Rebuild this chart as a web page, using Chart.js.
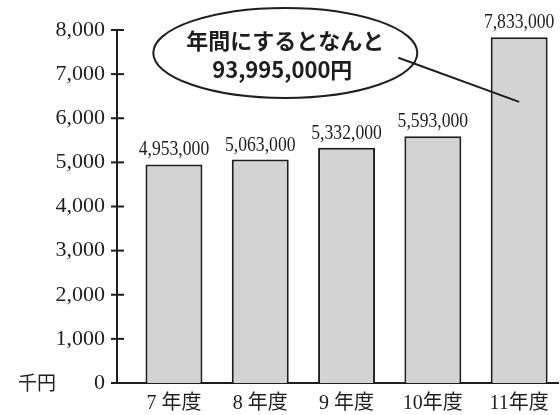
<!DOCTYPE html>
<html>
<head>
<meta charset="utf-8">
<script src="https://cdn.jsdelivr.net/npm/chart.js@4"></script>
<style>
  body { margin: 0; background: #fff; }
  #wrap { width: 560px; height: 415px; }
</style>
</head>
<body>
<div id="wrap"><canvas id="budgetChart"></canvas></div>
<script>
// Data (千円)
const years = [7, 8, 9, 10, 11];
const yearLabels = ['7 年度', '8 年度', '9 年度', '10年度', '11年度'];
const amounts = [4953, 5063, 5332, 5593, 7833];
const yTicks = [0, 1000, 2000, 3000, 4000, 5000, 6000, 7000, 8000];
const unitLabel = '千円';
const noteLines = ['年間にするとなんと', '93,995,000円'];

// Callout placement, in chart values
const note = {
    x: 8.29, y: 7480, rx: 132, ry: 45,
    from: { x: 9.6, y: 7370 },
    to: { x: 11, y: 6370 }
};

const ink = '#1e1e1e';
const serif = '"Liberation Serif", "Noto Sans CJK JP", serif';

const extras = {
    id: 'extras',
    afterDatasetsDraw(chart) {
        const ctx = chart.ctx;
        const xs = chart.scales.x;
        const ys = chart.scales.y;

        // value labels above bars (yen)
        const bars = chart.getDatasetMeta(0).data;
        ctx.save();
        ctx.fillStyle = ink;
        ctx.font = '21px ' + serif;
        ctx.textAlign = 'center';
        ctx.textBaseline = 'alphabetic';
        bars.forEach((bar, i) => {
            const txt = (amounts[i] * 1000).toLocaleString('en-US');
            ctx.save();
            ctx.translate(bar.x, bar.y - 9);
            ctx.scale(0.84, 1);
            ctx.fillText(txt, 0, 0);
            ctx.restore();
        });
        ctx.restore();

        // tick marks crossing the y axis
        ctx.save();
        ctx.strokeStyle = ink;
        ctx.lineWidth = 2;
        yTicks.forEach(v => {
            const py = ys.getPixelForValue(v);
            ctx.beginPath();
            ctx.moveTo(xs.left - 6, py);
            ctx.lineTo(xs.left + 7, py);
            ctx.stroke();
        });
        ctx.restore();

        // unit label
        ctx.save();
        ctx.fillStyle = ink;
        ctx.font = '19px "Noto Sans CJK JP", sans-serif';
        ctx.textAlign = 'left';
        ctx.textBaseline = 'middle';
        ctx.fillText(unitLabel, 18, ys.getPixelForValue(0));
        ctx.restore();

        // callout
        const cx = xs.getPixelForValue(note.x);
        const cy = ys.getPixelForValue(note.y);
        ctx.save();
        ctx.strokeStyle = ink;
        ctx.lineWidth = 2;
        ctx.beginPath();
        ctx.ellipse(cx, cy, note.rx, note.ry, 0, 0, Math.PI * 2);
        ctx.stroke();
        ctx.beginPath();
        ctx.moveTo(xs.getPixelForValue(note.from.x), ys.getPixelForValue(note.from.y));
        ctx.lineTo(xs.getPixelForValue(note.to.x), ys.getPixelForValue(note.to.y));
        ctx.stroke();
        ctx.fillStyle = ink;
        ctx.font = 'bold 22px "Noto Sans CJK JP", sans-serif';
        ctx.textAlign = 'center';
        ctx.textBaseline = 'middle';
        ctx.fillText(noteLines[0], cx, cy - 12);
        ctx.fillText(noteLines[1], cx - 3, cy + 17);
        ctx.restore();
    }
};

new Chart(document.getElementById('budgetChart'), {
    type: 'bar',
    data: {
        datasets: [{
            data: years.map((x, i) => ({ x: x, y: amounts[i] })),
            backgroundColor: '#d3d3d3',
            borderColor: ink,
            borderWidth: 2,
            barPercentage: 0.66,
            categoryPercentage: 1
        }]
    },
    options: {
        responsive: true,
        maintainAspectRatio: false,
        animation: false,
        layout: { padding: { top: 30, right: 2, left: 0, bottom: 0 } },
        plugins: {
            legend: { display: false },
            tooltip: { enabled: false }
        },
        scales: {
            x: {
                type: 'linear',
                offset: false,
                min: 6.34,
                max: 11.45,
                afterBuildTicks: s => { s.ticks = years.map(v => ({ value: v })); },
                afterFit: s => { s.height = 32; },
                ticks: {
                    autoSkip: false,
                    maxRotation: 0,
                    padding: 9,
                    color: ink,
                    font: { family: serif, size: 20 },
                    callback: v => yearLabels[years.indexOf(v)]
                },
                grid: { display: false, drawTicks: false, offset: false },
                border: { display: true, color: ink, width: 2 }
            },
            y: {
                min: 0,
                max: 8000,
                afterBuildTicks: s => { s.ticks = yTicks.map(v => ({ value: v })); },
                afterFit: s => { s.width = 117; },
                ticks: {
                    padding: 12,
                    color: ink,
                    font: { family: serif, size: 22 },
                    callback: v => v.toLocaleString('en-US')
                },
                grid: { display: false, drawTicks: false },
                border: { display: true, color: ink, width: 2 }
            }
        }
    },
    plugins: [extras]
});
</script>
</body>
</html>
